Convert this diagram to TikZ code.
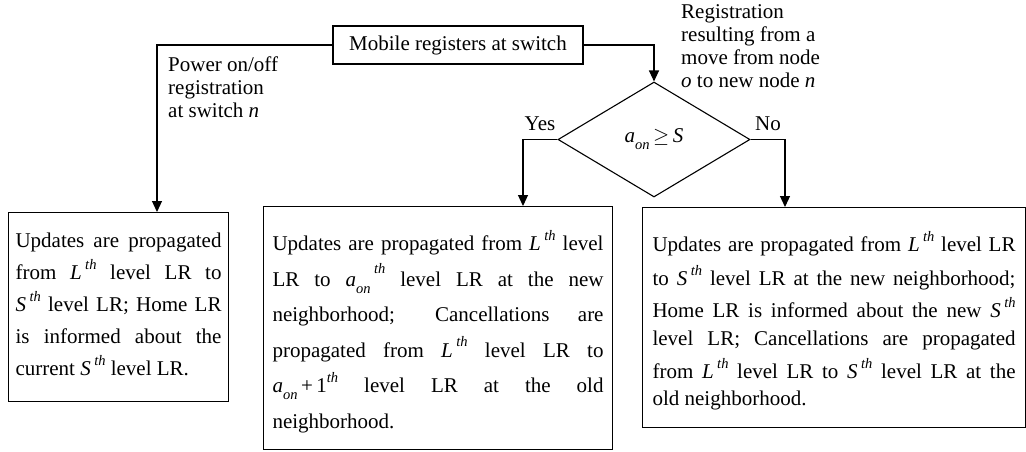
\documentclass[tikz,border=0pt]{standalone}
\usepackage{fontspec}
\setmainfont{Liberation Serif}
\usetikzlibrary{arrows.meta,shapes.geometric}
\newcommand\smit{\fontsize{14.5}{14.5}\selectfont\itshape}
\newcommand\thsup{\raisebox{0.5em}{\smit th}}
\newcommand\Lth{\textit{L}\,\thsup}
\newcommand\Sth{\textit{S}\,\thsup}
\newcommand\aon{\textit{a}\raisebox{-0.34em}{\smit on}}
\newcommand\aonth{\textit{a}\raisebox{-0.34em}{\smit on}\,\raisebox{0.62em}{\smit th}}
\newcommand\jl[1]{\makebox[\linewidth][s]{#1}}
\tikzset{
  box/.style={draw, line width=1.1pt, inner ysep=0pt, anchor=north west},
  arr/.style={line width=1.1pt, -{Triangle[length=11pt,width=10pt]}},
  lbl/.style={inner sep=0pt, align=left, font=\fontsize{21}{23}\selectfont},
}
\begin{document}
\begin{tikzpicture}[x=1pt,y=1pt,font=\fontsize{21}{25}\selectfont]
\useasboundingbox (0,0) rectangle (1026,-451);

\node[draw, line width=1.1pt, minimum width=250pt, minimum height=38pt, inner sep=0pt] (top) at (458,-45) {Mobile registers at switch};

\node[draw, line width=1.1pt, diamond, minimum width=192pt, minimum height=115pt, inner sep=0pt] (dia) at (654,-139.5) {\aon\,$\geq$\,\textit{S}};

\node[box, inner xsep=7pt] (lbox) at (8,-212) {\parbox[t][189pt][t]{206pt}{\fontsize{21}{32}\selectfont\rule{0pt}{35pt}%
\jl{Updates are propagated}\\%
\jl{from \Lth{} level LR to}\\%
\jl{\Sth{} level LR; Home LR}\\%
\jl{is informed about the}\\%
current \Sth{} level LR.}};

\node[box, inner xsep=9pt] (mbox) at (263,-206) {\parbox[t][243pt][t]{331pt}{\fontsize{21}{35.5}\selectfont\rule{0pt}{44pt}%
\jl{Updates are propagated from \Lth{} level}\\%
\jl{LR to \aonth{} level LR at the new}\\%
\jl{neighborhood; Cancellations are}\\%
\jl{propagated from \Lth{} level LR to}\\%
\jl{\aon{}\,+\,1\thsup{} level LR at the old}\\%
neighborhood.}};

\node[box, inner xsep=10pt] (rbox) at (642,-207) {\parbox[t][220pt][t]{363pt}{\fontsize{21}{30}\selectfont\rule{0pt}{44pt}%
\jl{Updates are propagated from \Lth{} level LR}\\[4pt]%
\jl{to \Sth{} level LR at the new neighborhood;}\\[2pt]%
\jl{Home LR is informed about the new \Sth}\\[-2pt]%
\jl{level LR; Cancellations are propagated}\\[3pt]%
\jl{from \Lth{} level LR to \Sth{} level LR at the}\\[-3pt]%
old neighborhood.}};

\node[lbl, anchor=north west] (pw) at (168,-57) {Power on/off\\registration\\at switch \textit{n}};
\node[lbl, anchor=north west] (rg) at (681,-4) {Registration\\resulting from a\\move from node\\\textit{o} to new node \textit{n}};
\node[inner sep=0pt] (yes) at (540,-124) {Yes};
\node[inner sep=0pt] (no) at (768,-124) {No};

\coordinate (lin) at (157,-212);
\coordinate (min) at (523,-206);
\coordinate (rin) at (785,-207);
\draw[arr] (top.west) -| (lin);
\draw[arr] (top.east) -| (dia.north);
\draw[arr] (dia.west) -| (min);
\draw[arr] (dia.east) -| (rin);
\end{tikzpicture}
\end{document}
